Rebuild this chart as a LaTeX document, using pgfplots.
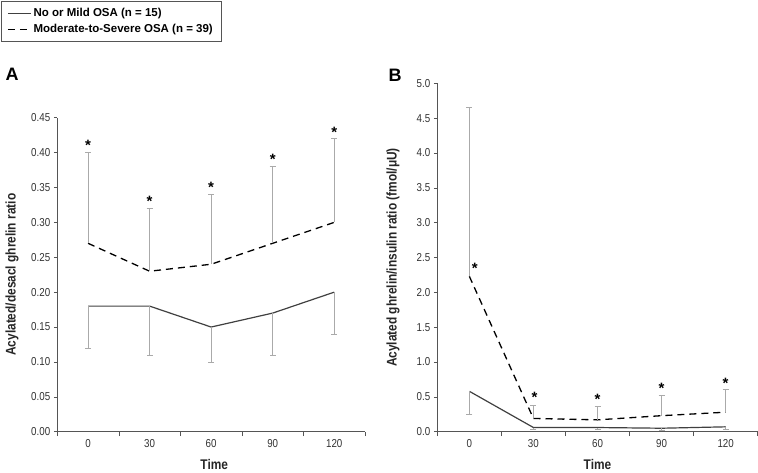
\documentclass[border=0pt]{standalone}
\usepackage{fontspec}
\setmainfont{Liberation Sans}
\newfontfamily\nf{Liberation Sans}[FakeStretch=0.85]
\usepackage{pgfplots}
\pgfplotsset{compat=1.18}
\definecolor{axc}{HTML}{555555}
\definecolor{errc}{HTML}{AAAAAA}
\definecolor{txt}{HTML}{333333}
\pgfplotsset{
  mystyle/.style={
    scale only axis,
    axis lines=left,
    axis line style={axc,-,line width=0.6pt},
    xmin=-15, xmax=135,
    xtick={0,30,60,90,120},
    minor xtick={-15,15,45,75,105,135},
    tick align=outside,
    major tick length=3.5pt,
    minor tick length=4.5pt,
    major x tick style={draw=none},
    minor x tick style={axc,line width=0.6pt},
    ytick style={axc,line width=0.6pt},
    ymin=0,
    ticklabel style={font=\nf\fontsize{11.5}{13}\selectfont, text=txt},
    /pgf/number format/assume math mode=true,
    xticklabel style={yshift=-1pt},
    label style={font=\nf\bfseries\fontsize{14}{16}\selectfont, text=black!85},
    clip=false,
  },
  solidline/.style={black!75, line width=1.2pt, solid, mark=none},
  dashline/.style={black, line width=1.3pt, dash pattern=on 7pt off 5pt, mark=none},
  ebars/.style={error bars/.cd, y dir=#1, y explicit,
    error bar style={errc, line width=0.8pt, solid},
    error mark options={rotate=90, errc, mark size=3pt, line width=0.8pt, solid}},
  stars/.style={draw=none, mark=none, nodes near coords={\bfseries *},
    every node near coord/.style={anchor=center, yshift=-3.5pt, font=\fontsize{15}{15}\selectfont, text=black}},
}
\begin{document}
\begin{tikzpicture}
\path[use as bounding box] (0,0) rectangle (758pt,-472pt);
% Panel A
\begin{axis}[mystyle,
  at={(57.3pt,-431.7pt)}, anchor=south west,
  width=307.7pt, height=314pt,
  ymax=0.45, ytick={0,0.05,...,0.46},
  yticklabel style={/pgf/number format/fixed, /pgf/number format/fixed zerofill, /pgf/number format/precision=2},
  xlabel={Time}, ylabel={Acylated/desacl ghrelin ratio},
  xlabel style={at={(axis description cs:0.51,-0.104)}, anchor=center},
  ylabel style={at={(axis description cs:-0.147,0.5)}, anchor=center},
  legend style={at={(axis description cs:-0.183,1.3717)}, anchor=north west,
    draw=axc, line width=0.6pt, font=\bfseries\fontsize{11.5}{13}\selectfont,
    inner xsep=6pt, inner ysep=5pt, row sep=2.5pt},
  legend cell align=left,
  legend image code/.code={\draw[#1] (0pt,0pt) -- (23pt,0pt);},
]
\addplot[solidline, ebars=minus] coordinates {
  (0,0.18) -= (0,0.06)
  (30,0.18) -= (0,0.07)
  (60,0.15) -= (0,0.05)
  (90,0.17) -= (0,0.06)
  (120,0.20) -= (0,0.06)
};
\addlegendentry{No or Mild OSA (n = 15)}
\addplot[dashline, ebars=plus] coordinates {
  (0,0.27) += (0,0.13)
  (30,0.23) += (0,0.09)
  (60,0.24) += (0,0.10)
  (90,0.27) += (0,0.11)
  (120,0.30) += (0,0.12)
};
\addlegendentry{Moderate-to-Severe OSA (n = 39)}
\addplot[stars, forget plot] coordinates {
  (0,0.416) (30,0.335) (60,0.355) (90,0.395) (120,0.434)
};
\node[font=\bfseries\fontsize{18}{18}\selectfont] at (axis description cs:-0.147,1.139) {A};
\end{axis}
% Panel B
\begin{axis}[mystyle,
  at={(437.3pt,-431.7pt)}, anchor=south west,
  width=320.4pt, height=348.4pt,
  ymax=5.0, ytick={0,0.5,...,5.01},
  yticklabel style={/pgf/number format/fixed, /pgf/number format/fixed zerofill, /pgf/number format/precision=1},
  xlabel={Time}, ylabel={Acylated ghrelin/insulin ratio (fmol/μU)},
  xlabel style={at={(axis description cs:0.5,-0.094)}, anchor=center},
  ylabel style={at={(axis description cs:-0.138,0.5)}, anchor=center},
]
\addplot[solidline, ebars=minus] coordinates {
  (0,0.58) -= (0,0.33)
  (30,0.06) -= (0,0.03)
  (60,0.06) -= (0,0.03)
  (90,0.05) -= (0,0.03)
  (120,0.07) -= (0,0.03)
};
\addplot[dashline, ebars=plus] coordinates {
  (0,2.23) += (0,2.43)
  (30,0.19) += (0,0.19)
  (60,0.17) += (0,0.19)
  (90,0.23) += (0,0.29)
  (120,0.28) += (0,0.32)
};
\addplot[stars] coordinates {
  (2.5,2.39) (30.5,0.54) (60,0.51) (90,0.67) (120,0.75)
};
\node[font=\bfseries\fontsize{18}{18}\selectfont] at (axis description cs:-0.132,1.024) {B};
\end{axis}
\end{tikzpicture}
\end{document}
